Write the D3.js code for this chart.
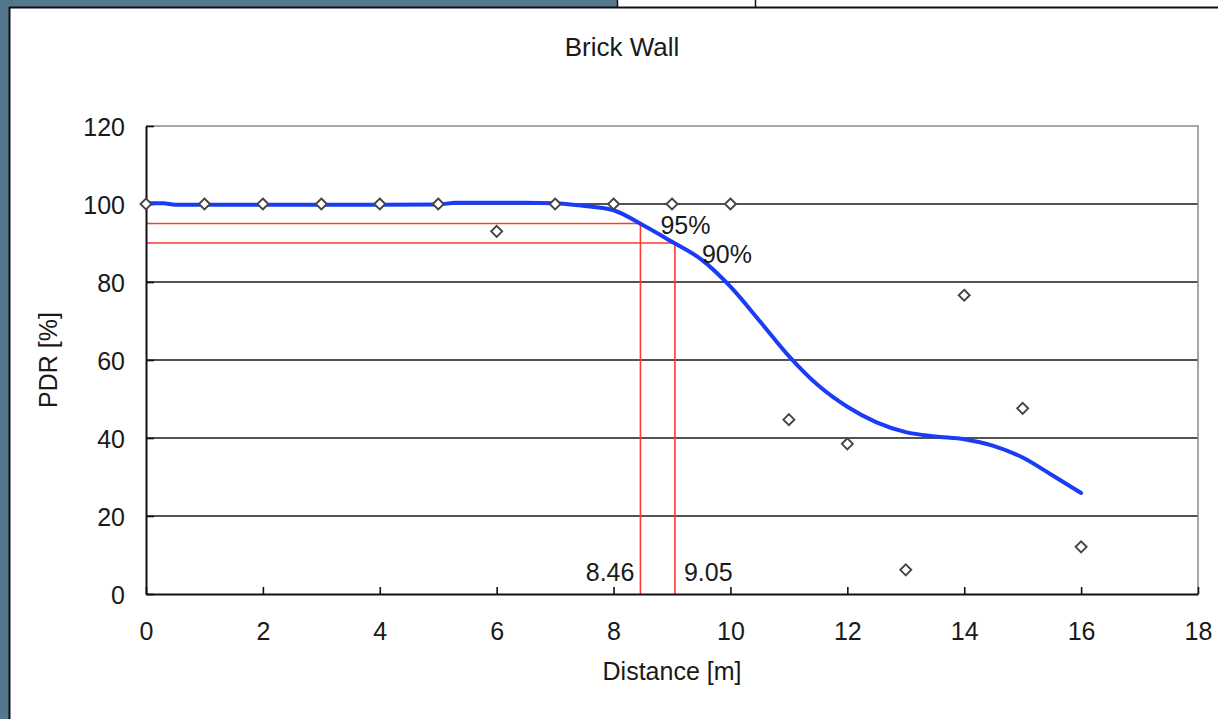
<!DOCTYPE html>
<html>
<head>
<meta charset="utf-8">
<script src="https://cdn.jsdelivr.net/npm/d3@7"></script>
<style>
  html, body { margin: 0; padding: 0; background: #53778d; }
  svg { display: block; }
  text { font-family: "Liberation Sans", Arial, sans-serif; fill: #1a1a1a; }
</style>
</head>
<body>
<svg id="chart" width="1218" height="719"></svg>
<script>
// measured PDR per distance (diamonds)
const measuredDistance = [0, 1, 2, 3, 4, 5, 6, 7, 8, 9, 10, 11, 12, 13, 14, 15, 16]
const measuredPdr = [100, 100, 100, 100, 100, 100, 93, 100, 100, 100, 100, 44.7, 38.5, 6.2, 76.6, 47.6, 12.1]

// fitted trend line (blue)
const fitDistance = [0, 0.3, 0.5, 1, 2, 3, 4, 5, 5.3, 5.5, 6, 6.5, 7, 7.5, 8, 8.5, 9, 9.5, 10, 10.5, 11, 11.5, 12, 12.5, 13, 13.5, 14, 14.5, 15, 15.5, 16]
const fitPdr = [100.2, 100.2, 99.8, 99.8, 99.8, 99.8, 99.8, 99.9, 100.3, 100.3, 100.3, 100.3, 100.2, 99.5, 98.4, 94.6, 90.3, 85.8, 78.8, 70, 61, 53.5, 48, 44, 41.5, 40.4, 39.7, 38, 35, 30.5, 25.9]

// thresholds (red guide lines)
const thresholdPdr = [95, 90]
const thresholdDistance = [8.46, 9.05]
const thresholdPdrLabels = ['95%', '90%']
const thresholdDistLabels = ['8.46', '9.05']

const distanceTicks = [0, 2, 4, 6, 8, 10, 12, 14, 16, 18]
const pdrTicks = [0, 20, 40, 60, 80, 100, 120]

const svg = d3.select('#chart')

// window frame: slate border, white sheet, cell box on top
svg.append('rect').attr('x', 10).attr('y', 7).attr('width', 1208).attr('height', 712).attr('fill', '#fff')
svg.append('rect').attr('x', 617).attr('y', 0).attr('width', 601).attr('height', 8).attr('fill', '#fff')
svg.append('line').attr('x1', 9.5).attr('x2', 9.5).attr('y1', 7).attr('y2', 719).attr('stroke', '#111').attr('stroke-width', 2)
svg.append('line').attr('x1', 9).attr('x2', 1218).attr('y1', 7.5).attr('y2', 7.5).attr('stroke', '#111').attr('stroke-width', 2)
svg.append('line').attr('x1', 617.5).attr('x2', 617.5).attr('y1', 0).attr('y2', 8).attr('stroke', '#111').attr('stroke-width', 1.5)
svg.append('line').attr('x1', 755.5).attr('x2', 755.5).attr('y1', 0).attr('y2', 8).attr('stroke', '#111').attr('stroke-width', 1.5)

const x = d3.scaleLinear().domain([0, 18]).range([146, 1198])
const y = d3.scaleLinear().domain([0, 120]).range([594, 126])

// gridlines
svg.append('g').selectAll('line')
    .data(pdrTicks.filter(d => d > 0 && d < 120)).enter().append('line')
    .attr('x1', x(0)).attr('x2', x(18))
    .attr('y1', d => y(d)).attr('y2', d => y(d))
    .attr('stroke', '#1a1a1a').attr('stroke-width', 1.4)

// top / right border of plot area (grey)
svg.append('path')
    .attr('d', `M${x(0)},${y(120)}H${x(18)}V${y(0)}`)
    .attr('fill', 'none').attr('stroke', '#8a8a8a').attr('stroke-width', 1.5)

// red guide lines
thresholdPdr.forEach((p, i) => {
    const d = thresholdDistance[i]
    svg.append('path')
        .attr('d', `M${x(0)},${y(p)}H${x(d)}V${y(0)}`)
        .attr('fill', 'none').attr('stroke', '#ff3b2f').attr('stroke-width', 1.6)
})

// axes, ticks pointing inward
const yAxis = d3.axisLeft(y).tickValues(pdrTicks).tickSizeInner(-8).tickSizeOuter(0).tickPadding(21)
const xAxis = d3.axisBottom(x).tickValues(distanceTicks).tickSizeInner(-7).tickSizeOuter(0).tickPadding(28)

const gy = svg.append('g').attr('transform', `translate(${x(0)},0)`).call(yAxis)
const gx = svg.append('g').attr('transform', `translate(0,${y(0)})`).call(xAxis)
;[gx, gy].forEach(g => {
    g.select('.domain').attr('stroke', '#111').attr('stroke-width', 2)
    g.selectAll('.tick line').attr('stroke', '#111').attr('stroke-width', 1.6)
    g.selectAll('.tick text').style('font-family', '"Liberation Sans", Arial, sans-serif')
        .style('font-size', '25px').attr('fill', '#262626')
})
gy.selectAll('.tick text').attr('dy', '0.36em')
gx.selectAll('.tick text').attr('dy', '0.72em')

// trend line
const line = d3.line().x((d, i) => x(fitDistance[i])).y(d => y(d)).curve(d3.curveMonotoneX)
svg.append('path')
    .datum(fitPdr)
    .attr('d', line)
    .attr('fill', 'none').attr('stroke', '#1b3cf5').attr('stroke-width', 4)
    .attr('stroke-linejoin', 'round').attr('stroke-linecap', 'round')

// measured points
svg.append('g').selectAll('path')
    .data(measuredPdr).enter().append('path')
    .attr('transform', (d, i) => `translate(${x(measuredDistance[i])},${y(d)})`)
    .attr('d', 'M0,-5.5L5.5,0L0,5.5L-5.5,0Z')
    .attr('fill', '#fff').attr('stroke', '#444').attr('stroke-width', 1.9)

// threshold labels
svg.append('g').selectAll('text')
    .data(thresholdPdrLabels).enter().append('text')
    .attr('x', (d, i) => x(thresholdDistance[i]) + (i === 0 ? 20 : 27))
    .attr('y', (d, i) => y(thresholdPdr[i]) + (i === 0 ? 10 : 20))
    .style('font-size', '25px')
    .text(d => d)

svg.append('g').selectAll('text')
    .data(thresholdDistLabels).enter().append('text')
    .attr('x', (d, i) => x(thresholdDistance[i]) + (i === 0 ? -6 : 9))
    .attr('y', y(0) - 13)
    .attr('text-anchor', (d, i) => i === 0 ? 'end' : 'start')
    .style('font-size', '25px')
    .text(d => d)

// titles
svg.append('text').attr('x', 622).attr('y', 56).attr('text-anchor', 'middle')
    .style('font-size', '26px').text('Brick Wall')
svg.append('text').attr('x', 672).attr('y', 680).attr('text-anchor', 'middle')
    .style('font-size', '25px').text('Distance [m]')
svg.append('text').attr('transform', 'translate(57,360) rotate(-90)').attr('text-anchor', 'middle')
    .style('font-size', '25px').text('PDR [%]')
</script>
</body>
</html>
